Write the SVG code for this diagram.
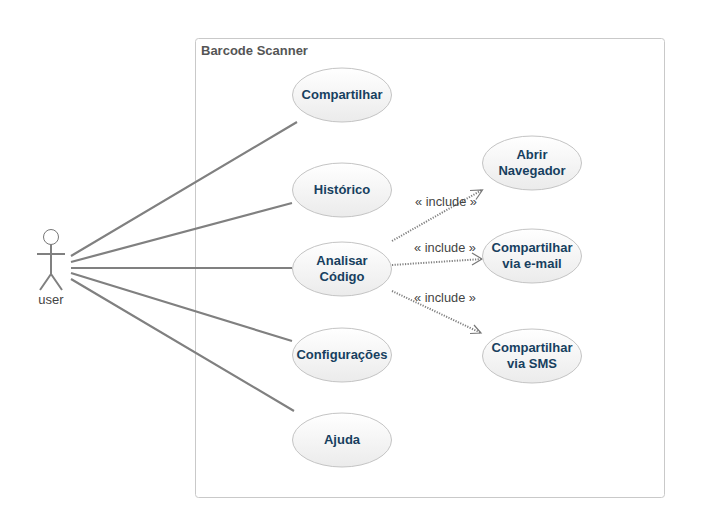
<svg xmlns="http://www.w3.org/2000/svg" width="717" height="526" viewBox="0 0 717 526">
<style>
.t{font-family:"Liberation Sans",Arial,sans-serif;font-size:13px;font-weight:bold;fill:#173f5f;text-anchor:middle}
.e{fill:url(#g);stroke:#c4c4c4;stroke-width:1}
.a{stroke:#808080;stroke-width:2.2;fill:none}
.d{stroke:#808080;stroke-width:2;stroke-dasharray:1.2 1.4;fill:none}
.h{stroke:#777;stroke-width:1.2;fill:none}
.l{font-family:"Liberation Sans",Arial,sans-serif;font-size:12.800px;fill:#444;text-anchor:middle}
</style>
<defs><linearGradient id="g" x1="0" y1="0" x2="0" y2="1"><stop offset="0" stop-color="#ffffff"/><stop offset="1" stop-color="#ebebeb"/></linearGradient></defs>
<rect width="717" height="526" fill="#fff"/>
<g id="system"><rect x="195.500" y="38.500" width="469" height="459" rx="3" fill="#fff" stroke="#c9c9c9"/>
<text x="201" y="55" font-family="Liberation Sans,Arial,sans-serif" font-size="13" font-weight="bold" fill="#555">Barcode Scanner</text></g>
<g id="connectors">
<path class="a" d="M71 256L297 122M71 262L292 203M71 268H292M71 273L292 341M71 279L294 411"/>
<path class="d" d="M392 241L482 190M392 265L482 259M392 291L481 333"/>
<path class="h" d="M470 190.500L482.500 190L476 199.500M472 253L482 259L472 265M470 333.500L481 333L474 325"/>
<text class="l" x="446" y="206">« include »</text>
<text class="l" x="445" y="252">« include »</text>
<text class="l" x="445" y="302">« include »</text>
</g>
<g id="user" stroke="#808080" stroke-width="2" fill="none">
<circle cx="51" cy="237" r="7.500" stroke-width="1" stroke="#777"/>
<path d="M51 244.500V274M37 254H65M51 274L40 290M51 274L62 290"/>
<text x="51" y="304" font-family="Liberation Sans,Arial,sans-serif" font-size="13" fill="#444" stroke="none" text-anchor="middle">user</text></g>
<g id="uc1"><ellipse class="e" cx="342" cy="95" rx="49.500" ry="27"/><text class="t" x="342" y="99">Compartilhar</text></g>
<g id="uc2"><ellipse class="e" cx="342" cy="190" rx="49.500" ry="27"/><text class="t" x="342" y="194">Histórico</text></g>
<g id="uc3"><ellipse class="e" cx="342" cy="269" rx="49.500" ry="27"/><text class="t" x="342" y="265">Analisar</text><text class="t" x="342" y="281">Código</text></g>
<g id="uc4"><ellipse class="e" cx="342" cy="355" rx="49.500" ry="27"/><text class="t" x="342" y="359">Configurações</text></g>
<g id="uc5"><ellipse class="e" cx="342" cy="440" rx="49.500" ry="27"/><text class="t" x="342" y="444">Ajuda</text></g>
<g id="uc6"><ellipse class="e" cx="532" cy="163" rx="49.500" ry="27"/><text class="t" x="532" y="159">Abrir</text><text class="t" x="532" y="175">Navegador</text></g>
<g id="uc7"><ellipse class="e" cx="532" cy="256" rx="49.500" ry="27"/><text class="t" x="532" y="252">Compartilhar</text><text class="t" x="532" y="268">via e-mail</text></g>
<g id="uc8"><ellipse class="e" cx="532" cy="356" rx="49.500" ry="27"/><text class="t" x="532" y="352">Compartilhar</text><text class="t" x="532" y="368">via SMS</text></g>
</svg>
